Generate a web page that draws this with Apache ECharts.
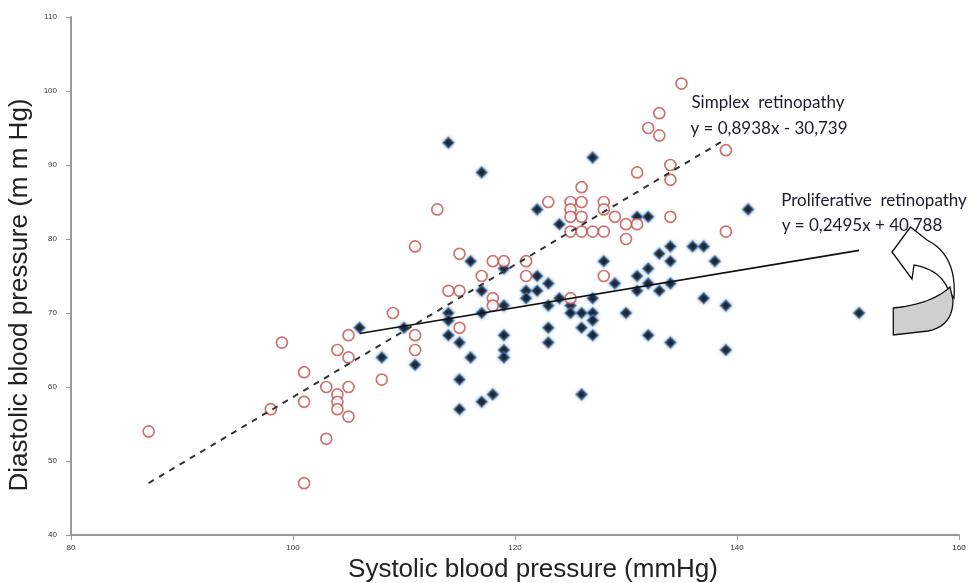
<!DOCTYPE html>
<html>
<head>
<meta charset="utf-8">
<script src="https://cdn.jsdelivr.net/npm/echarts@6/dist/echarts.min.js"></script>
<style>
html,body{margin:0;padding:0;background:#fff;}
#chart{width:976px;height:583px;}
</style>
</head>
<body>
<div id="chart"></div>
<script>
// Simplex retinopathy (red open circles)
const simplexSBP = [87,98,99,101,101,101,103,103,104,104,104,104,105,105,105,105,108,109,111,111,111,113,114,115,115,115,117,118,118,118,119,121,121,123,125,125,125,125,125,126,126,126,126,127,128,128,128,128,129,130,130,131,131,132,133,133,134,134,134,135,139,139];
const simplexDBP = [54,57,66,62,58,47,60,53,65,59,58,57,67,64,60,56,61,70,79,67,65,84,73,73,78,68,75,77,72,71,77,77,75,85,85,84,83,81,72,87,85,83,81,81,85,84,81,75,83,82,80,89,82,95,94,97,90,88,83,101,92,81];
// Proliferative retinopathy (dark diamonds)
const prolifSBP = [106,108,110,111,114,114,114,114,115,115,115,116,116,117,117,117,117,118,119,119,119,119,119,121,121,122,122,122,123,123,123,123,124,124,125,125,126,126,126,127,127,127,127,127,128,129,130,131,131,131,132,132,132,132,133,133,134,134,134,134,136,137,137,138,139,139,141,151];
const prolifDBP = [68,64,68,63,93,70,69,67,66,61,57,77,64,89,73,70,58,59,76,71,67,65,64,73,72,84,75,73,74,71,68,66,82,72,71,70,70,68,59,91,72,70,69,67,77,74,70,83,75,73,83,76,74,67,78,73,79,77,74,66,79,79,72,77,71,65,84,70];
// Trend line coefficients [slope, intercept]
const simplexFit = [0.8938, -30.739];
const prolifFit = [0.2495, 40.788];
const xTicks = [80, 100, 120, 140, 160];
const yTicks = [40, 50, 60, 70, 80, 90, 100, 110];

function zip(a, b) { return a.map((v, i) => [v, b[i]]); }
function fitLine(xs, fit) {
  const lo = Math.min(...xs), hi = Math.max(...xs);
  return [[lo, fit[0]*lo + fit[1]], [hi, fit[0]*hi + fit[1]]];
}
// quadratic curve sampler for the decorative arrow outline
function quad(p0, c, p1, n) {
  const out = [];
  for (let i = 0; i <= n; i++) {
    const t = i / n, u = 1 - t;
    out.push([u*u*p0[0] + 2*u*t*c[0] + t*t*p1[0], u*u*p0[1] + 2*u*t*c[1] + t*t*p1[1]]);
  }
  return out;
}
const arrowBack = [[910.5,227],[892,252],[912,279],[914,265]]
  .concat(quad([914,265],[942,270],[949,292],12))
  .concat([[954,298]])
  .concat(quad([954,298],[957,255],[927,240],12));
const arrowFace = [[893.3,308]]
  .concat(quad([893.3,308],[932,304],[950,287],12))
  .concat([[953,300]])
  .concat(quad([953,300],[953,326],[928,331],10))
  .concat([[893.3,335]]);

const chart = echarts.init(document.getElementById('chart'));
const txt = {fontFamily: 'Lato', fontSize: 17, fill: '#1c1c2a', align: 'center', verticalAlign: 'middle'};
chart.setOption({
  animation: false,
  backgroundColor: '#fff',
  grid: {left: 71, right: 17, top: 17, bottom: 48, containLabel: false, outerBoundsMode: 'none'},
  xAxis: {
    type: 'value', min: xTicks[0], max: xTicks[xTicks.length-1], interval: 20,
    name: 'Systolic blood pressure (mmHg)', nameLocation: 'middle', nameGap: 19,
    nameTextStyle: {fontFamily: 'Liberation Sans', fontSize: 26, color: '#222', padding: [0, 0, 0, 36]},
    axisLine: {lineStyle: {color: '#999', width: 2}},
    axisTick: {show: true, length: 5, lineStyle: {color: '#999'}},
    axisLabel: {fontSize: 8, color: '#333', margin: 9},
    splitLine: {show: false}
  },
  yAxis: {
    type: 'value', min: yTicks[0], max: yTicks[yTicks.length-1], interval: 10,
    name: 'Diastolic blood pressure (m m Hg)', nameLocation: 'middle', nameGap: 34,
    nameTextStyle: {fontFamily: 'Liberation Sans', fontSize: 26, color: '#222', padding: [0, 38, 0, 0]},
    axisLine: {show: true, lineStyle: {color: '#999', width: 2}},
    axisTick: {show: true, length: 5, lineStyle: {color: '#999'}},
    axisLabel: {fontSize: 8, color: '#333', margin: 14},
    splitLine: {show: false}
  },
  series: [
    {
      name: 'Simplex retinopathy', type: 'scatter', data: zip(simplexSBP, simplexDBP),
      symbol: 'circle', symbolSize: 11,
      itemStyle: {color: '#fff', borderColor: '#c0504d', borderWidth: 1.7}, z: 3
    },
    {
      name: 'Proliferative retinopathy', type: 'scatter', data: zip(prolifSBP, prolifDBP),
      symbol: 'diamond', symbolSize: 11,
      itemStyle: {color: '#000', borderColor: 'rgba(79,129,189,0.7)', borderWidth: 1.5,
        shadowBlur: 3, shadowColor: 'rgba(79,129,189,0.8)'}, z: 2
    },
    {
      type: 'line', data: fitLine(simplexSBP, simplexFit), symbol: 'none',
      lineStyle: {color: '#333', width: 2, type: [6, 6]}, z: 4
    },
    {
      type: 'line', data: fitLine(prolifSBP, prolifFit), symbol: 'none',
      lineStyle: {color: '#111', width: 1.6}, z: 4
    }
  ],
  graphic: [
    {type: 'text', x: 768, y: 103, style: Object.assign({text: 'Simplex  retinopathy'}, txt)},
    {type: 'text', x: 769, y: 129, style: Object.assign({text: 'y = 0,8938x - 30,739'}, txt)},
    {type: 'text', x: 874, y: 201, style: Object.assign({text: 'Proliferative  retinopathy'}, txt)},
    {type: 'text', x: 862, y: 226, style: Object.assign({text: 'y = 0,2495x + 40,788'}, txt)},
    {type: 'polygon', shape: {points: arrowBack},
      style: {fill: '#fff', stroke: '#111', lineWidth: 1.3}},
    {type: 'polygon', shape: {points: arrowFace},
      style: {fill: '#cfcfcf', stroke: '#111', lineWidth: 1.3}}
  ]
});
</script>
</body>
</html>
